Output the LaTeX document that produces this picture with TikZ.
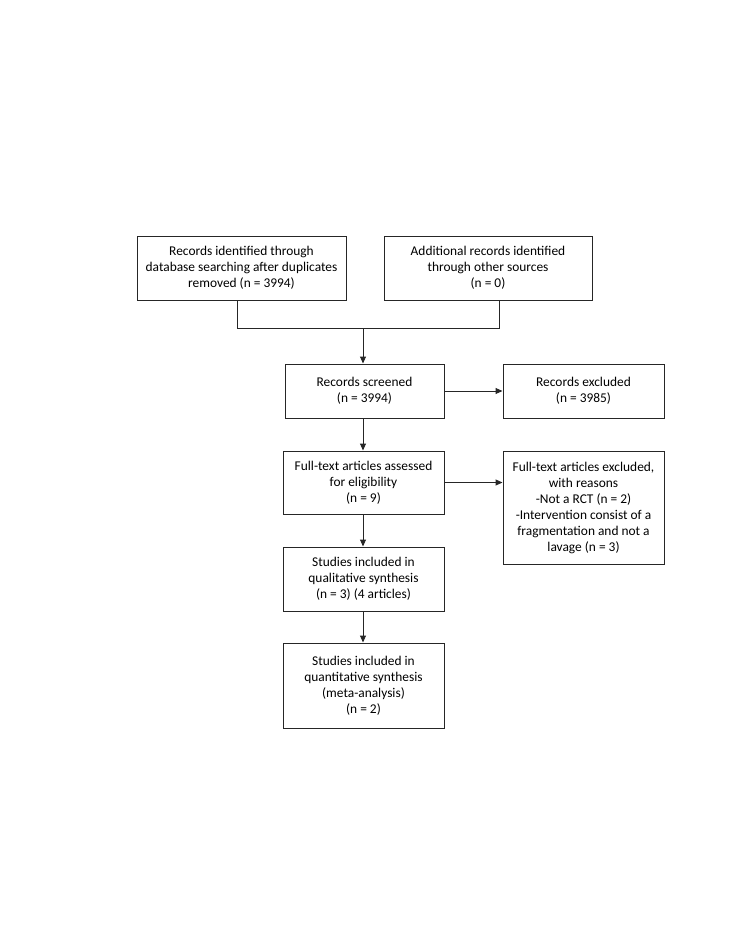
\documentclass[tikz,border=0pt]{standalone}
\usepackage{fontspec}
\setmainfont{Carlito}
\usepackage{tikz}
\usetikzlibrary{arrows.meta,calc}

\tikzset{
    flowbox/.style={draw=black!85, line width=1pt, align=center, inner sep=0pt,
        font=\fontsize{13.4}{16}\selectfont},
    flowline/.style={draw=black!85, line width=1pt},
    flowarrow/.style={draw=black!85, line width=1pt, -{Triangle[length=7pt,width=6pt]}}
}

\begin{document}
\begin{tikzpicture}[x=1pt, y=-1pt]
            \useasboundingbox (0,0) rectangle (728,942);
            \node[flowbox, minimum width=209pt, minimum height=64pt] at (241.5,268) (ident) {Records identified through\\database searching after duplicates\\removed (n = 3994)};
            \node[flowbox, minimum width=208pt, minimum height=64pt] at (488,268) (other) {Additional records identified\\through other sources\\(n = 0)};
            \node[flowbox, minimum width=159pt, minimum height=54pt] at (364.5,391) (screen) {Records screened\\(n = 3994)};
            \node[flowbox, minimum width=161pt, minimum height=54pt] at (583.5,391) (excl) {Records excluded\\(n = 3985)};
            \node[flowbox, minimum width=161pt, minimum height=63pt] at (363.5,482.5) (full) {Full-text articles assessed\\for eligibility\\(n = 9)};
            \node[flowbox, minimum width=161pt, minimum height=113pt] at (583.5,507.5) (fullexcl) {Full-text articles excluded,\\with reasons\\-Not a RCT (n = 2)\\-Intervention consist of a\\fragmentation and not a\\lavage (n = 3)};
            \node[flowbox, minimum width=161pt, minimum height=64pt] at (363.5,579) (qual) {Studies included in\\qualitative synthesis\\(n = 3) (4 articles)};
            \node[flowbox, minimum width=161pt, minimum height=85pt] at (363.5,685.5) (quant) {Studies included in\\quantitative synthesis\\(meta-analysis)\\(n = 2)};
            \coordinate (join) at (363,328);
            \coordinate (leftend) at (237,328);
            \coordinate (rightend) at (499,328);
            \draw[flowline] (ident.south -| leftend) -- (leftend) -- (rightend) -- (other.south -| rightend);
            \draw[flowarrow] (join) -- (screen.north -| join);
            \draw[flowarrow] (screen.east) -- (excl.west);
            \draw[flowarrow] (full.east) -- (full.east -| fullexcl.west);
            \draw[flowarrow] (screen.south -| join) -- (full.north -| join);
            \draw[flowarrow] (full.south -| join) -- (qual.north -| join);
            \draw[flowarrow] (qual.south -| join) -- (quant.north -| join);
        \end{tikzpicture}
\end{document}
